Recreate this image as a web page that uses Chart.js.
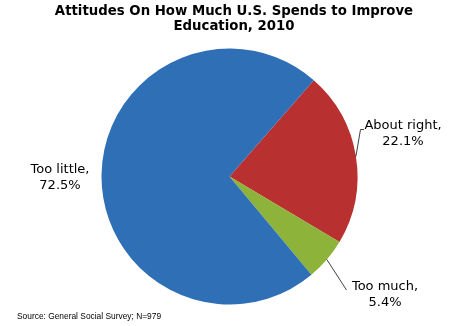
<!DOCTYPE html>
<html>
<head>
<meta charset="utf-8">
<script src="https://cdn.jsdelivr.net/npm/chart.js@4"></script>
<style>
  html, body { margin: 0; padding: 0; background: #fff; }
  #pie { display: block; }
</style>
</head>
<body>
<canvas id="pie" width="449" height="326"></canvas>
<script>
// Shares of respondents, in drawing order (clockwise from the start angle)
const categories = ['About right', 'Too much', 'Too little'];
const shares = [22.1, 5.4, 72.5];
const sliceColors = ['#B83130', '#8DB33B', '#2E6FB6'];

const titleLines = ['Attitudes On How Much U.S. Spends to Improve', 'Education, 2010'];
const sourceNote = 'Source: General Social Survey; N=979';

// Where each label sits, and the bend of its leader line (null = no line)
const labelPlacement = [
    { x: 403, y: 129, bend: [[360.5, 129.5], [364, 129.5]] },
    { x: 385, y: 290, bend: [[346.5, 290]] },
    { x: 60, y: 173, bend: null }
];

Chart.defaults.font.family = '"DejaVu Sans", Verdana, sans-serif';
Chart.defaults.color = '#000';

// Two-line bold heading, centred a little right of the canvas middle
const heading = {
    id: 'heading',
    afterDraw(chart) {
        const ctx = chart.ctx;
        ctx.save();
        ctx.fillStyle = '#000';
        ctx.font = 'bold 13.3px "DejaVu Sans", Verdana, sans-serif';
        ctx.textAlign = 'center';
        ctx.textBaseline = 'alphabetic';
        titleLines.forEach((line, i) => ctx.fillText(line, 234, 15 + i * 15));

        ctx.font = '8.4px "Liberation Sans", Arial, sans-serif';
        ctx.textAlign = 'left';
        ctx.fillText(sourceNote, 17, 319);
        ctx.restore();
    }
};

// Labels "Name,\nvalue%" with thin leader lines from the slice edge
const sliceLabels = {
    id: 'sliceLabels',
    afterDatasetsDraw(chart) {
        const ctx = chart.ctx;
        const arcs = chart.getDatasetMeta(0).data;
        ctx.save();
        arcs.forEach((arc, i) => {
            const p = arc.getProps(['x', 'y', 'startAngle', 'endAngle', 'outerRadius'], true);
            const mid = (p.startAngle + p.endAngle) / 2;
            const place = labelPlacement[i];

            if (place.bend) {
                ctx.beginPath();
                ctx.moveTo(p.x + Math.cos(mid) * p.outerRadius, p.y + Math.sin(mid) * p.outerRadius);
                place.bend.forEach(pt => ctx.lineTo(pt[0], pt[1]));
                ctx.strokeStyle = '#000';
                ctx.lineWidth = 0.75;
                ctx.stroke();
            }

            ctx.fillStyle = '#000';
            ctx.font = '13px "DejaVu Sans", Verdana, sans-serif';
            ctx.textAlign = 'center';
            ctx.textBaseline = 'alphabetic';
            ctx.fillText(categories[i] + ',', place.x, place.y);
            ctx.fillText(shares[i].toFixed(1) + '%', place.x, place.y + 15.5);
        });
        ctx.restore();
    }
};

new Chart(document.getElementById('pie'), {
    type: 'pie',
    data: {
        labels: categories,
        datasets: [{
            data: shares,
            backgroundColor: sliceColors,
            borderWidth: 0,
            hoverOffset: 0
        }]
    },
    options: {
        responsive: false,
        animation: false,
        devicePixelRatio: 1,
        rotation: 41.2,
        layout: {
            padding: { top: 48.5, left: 101.5, right: 91.5, bottom: 21.5 }
        },
        plugins: {
            legend: { display: false },
            tooltip: { enabled: false },
            title: { display: false }
        }
    },
    plugins: [sliceLabels, heading]
});
</script>
</body>
</html>
